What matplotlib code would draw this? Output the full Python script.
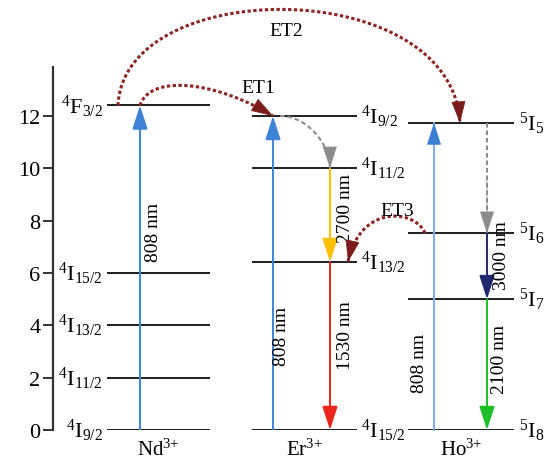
import numpy as np
import matplotlib
matplotlib.use("Agg")
import matplotlib.pyplot as plt
from matplotlib.patches import FancyArrowPatch

plt.rcParams['font.family'] = ['Liberation Serif', 'DejaVu Serif']
plt.rcParams['mathtext.fontset'] = 'custom'
plt.rcParams['mathtext.rm'] = 'Liberation Serif'
plt.rcParams['mathtext.it'] = 'Liberation Serif:italic'

# ── energy levels (10^3 cm^-1) ────────────────────────────────────────────
nd_levels = [0.0, 2.0, 4.0, 6.0, 12.4]
nd_labels = [r'$^{4}\mathrm{I}_{9/2}$', r'$^{4}\mathrm{I}_{11/2}$', r'$^{4}\mathrm{I}_{13/2}$',
             r'$^{4}\mathrm{I}_{15/2}$', r'$^{4}\mathrm{F}_{3/2}$']
er_levels = [0.0, 6.42, 10.0, 12.0]
er_labels = [r'$^{4}\mathrm{I}_{15/2}$', r'$^{4}\mathrm{I}_{13/2}$', r'$^{4}\mathrm{I}_{11/2}$',
             r'$^{4}\mathrm{I}_{9/2}$']
ho_levels = [0.0, 5.0, 7.52, 11.73]
ho_labels = [r'$^{5}\mathrm{I}_{8}$', r'$^{5}\mathrm{I}_{7}$', r'$^{5}\mathrm{I}_{6}$',
             r'$^{5}\mathrm{I}_{5}$']
ions = [r'Nd$^{3{+}}$', r'Er$^{3{+}}$', r'Ho$^{3{+}}$']
yticks = [0, 2, 4, 6, 8, 10, 12]

# ── layout (x in pixel-like units) ────────────────────────────────────────
cols = {'Nd': (107, 210), 'Er': (252, 357), 'Ho': (408, 514)}
x_nd_pump, x_er_pump, x_er_emit, x_ho_pump, x_ho_emit = 140, 273, 330, 434, 487

fig = plt.figure(figsize=(5.49, 4.64), dpi=100)
ax = fig.add_axes([53 / 549, 33 / 464, 496 / 549, 363 / 464])
ax.set_xlim(53, 549)
ax.set_ylim(0, 13.87)
for s in ['top', 'right', 'bottom']:
    ax.spines[s].set_visible(False)
ax.spines['left'].set_linewidth(1.6)
ax.spines['left'].set_color('#333333')
ax.set_xticks([])
ax.set_yticks(yticks)
ax.tick_params(axis='y', direction='out', length=7, width=1.4, labelsize=16,
               color='#333333', pad=2)

# level lines + labels
lc = '#1e1e1e'
x0, x1 = cols['Nd']
ax.hlines(nd_levels, x0, x1, color=lc, lw=1.4)
for e, lab in zip(nd_levels, nd_labels):
    ax.text(x0 - 4, e, lab, ha='right', va='center', fontsize=16)
x0, x1 = cols['Er']
ax.hlines(er_levels, x0, x1, color=lc, lw=1.4)
for e, lab in zip(er_levels, er_labels):
    ax.text(x1 + 4, e, lab, ha='left', va='center', fontsize=16)
x0, x1 = cols['Ho']
ax.hlines(ho_levels, x0, x1, color=lc, lw=1.4)
for e, lab in zip(ho_levels, ho_labels):
    ax.text(x1 + 5, e, lab, ha='left', va='center', fontsize=16)

for (x0, x1), name in zip(cols.values(), ions):
    ax.text((x0 + x1) / 2, -0.72, name, ha='center', va='center', fontsize=15,
            clip_on=False)

HEAD = '-|>,head_length=1.45,head_width=0.47'


def straight(x, e0, e1, color):
    ax.add_patch(FancyArrowPatch((x, e0), (x, e1), arrowstyle=HEAD, mutation_scale=10,
                                 color=color, lw=1.4, shrinkA=0, shrinkB=0, zorder=3))


def bezier(p0, c1, c2, p3, n=120):
    t = np.linspace(0, 1, n)[:, None]
    p0, c1, c2, p3 = map(np.asarray, (p0, c1, c2, p3))
    return (1 - t) ** 3 * p0 + 3 * (1 - t) ** 2 * t * c1 + 3 * (1 - t) * t ** 2 * c2 + t ** 3 * p3


def styled(pts, color, ls, lw, head_color):
    ax.plot(pts[:, 0], pts[:, 1], color=color, ls=ls, lw=lw, clip_on=False, zorder=3,
            dash_capstyle='butt')
    ax.add_patch(FancyArrowPatch(tuple(pts[-2]), tuple(pts[-1]), arrowstyle=HEAD,
                                 mutation_scale=10, color=head_color, lw=0.5,
                                 shrinkA=0, shrinkB=0, zorder=4, clip_on=False))


# pump arrows (808 nm)
straight(x_nd_pump, nd_levels[0], nd_levels[4], '#3f83d6')
straight(x_er_pump, er_levels[0], er_levels[3], '#3f83d6')
ho_pump = np.array([[x_ho_pump, ho_levels[0]], [x_ho_pump, ho_levels[3] - 0.01],
                    [x_ho_pump, ho_levels[3]]])
styled(ho_pump, '#86ade6', '-', 1.5, '#3a7ed4')

# emissions
straight(x_er_emit, er_levels[2], er_levels[1], '#ffc000')
straight(x_er_emit, er_levels[1], er_levels[0], '#e8261c')
straight(x_ho_emit, ho_levels[2], ho_levels[1], '#1f2a6e')
straight(x_ho_emit, ho_levels[1], ho_levels[0], '#1fbf2a')

# non-radiative relaxations (gray dashed)
gray = '#8c8c8c'
pts = bezier((280, er_levels[3]), (307, er_levels[3]), (x_er_emit, 10.93),
             (x_er_emit, er_levels[2]))
styled(pts, gray, (0, (2.2, 1.4)), 1.5, gray)
pts = np.array([[x_ho_emit, ho_levels[3]], [x_ho_emit, (ho_levels[3] + ho_levels[2]) / 2],
                [x_ho_emit, ho_levels[2]]])
styled(pts, gray, (0, (2.2, 1.4)), 1.5, gray)

# energy transfers (dotted)
brown, brown_head = '#8e2626', '#7a1c1c'
dot = (0, (1.1, 0.8))
et1 = bezier((x_nd_pump, nd_levels[4]), (150, 13.60), (215, 13.34), (x_er_pump, er_levels[3]))
styled(et1, brown, dot, 2.2, brown_head)
et2 = bezier((118, nd_levels[4]), (124, 17.4), (452, 17.4), (460, ho_levels[3]))
styled(et2, brown, dot, 2.2, brown_head)
et3 = bezier((425, ho_levels[2]), (415, 8.44), (360, 8.64), (348, er_levels[1]))
styled(et3, brown, dot, 2.2, brown_head)

# text labels
ax.text(258, 13.07, 'ET1', ha='center', va='center', fontsize=14, clip_on=False)
ax.text(286, 15.28, 'ET2', ha='center', va='center', fontsize=14, clip_on=False)
ax.text(397, 8.37, 'ET3', ha='center', va='center', fontsize=14)
nm = dict(rotation=90, ha='center', va='center', fontsize=14)
ax.text(153, 7.6, '808 nm', **nm)
ax.text(282, 3.63, '808 nm', **nm)
ax.text(419, 2.6, '808 nm', **nm)
ax.text(346, 8.52, '2700 nm', **nm)
ax.text(346, 3.63, '1530 nm', **nm)
ax.text(501, 6.72, '3000 nm', **nm)
ax.text(500, 2.75, '2100 nm', **nm)

fig.savefig('out.png', dpi=100)
